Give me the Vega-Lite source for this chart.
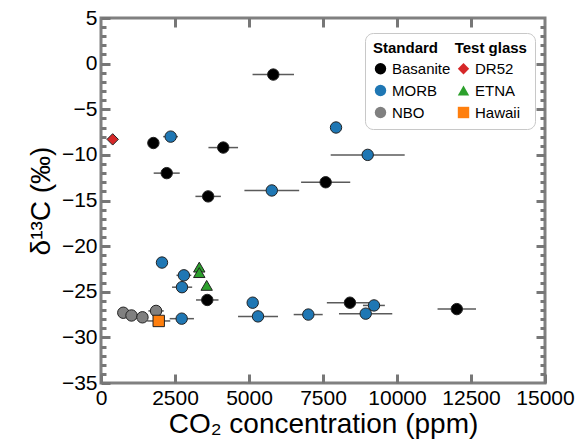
{
  "$schema": "https://vega.github.io/schema/vega-lite/v6.json",
  "width": 444,
  "height": 365,
  "autosize": {"type": "none"},
  "padding": {"left": 101, "top": 18, "right": 30, "bottom": 60},
  "config": {
    "view": {"stroke": "#808080", "strokeWidth": 3},
    "axis": {"domain": false, "grid": false, "tickColor": "#777777", "tickWidth": 3}
  },
  "data": {"values": [
      {"sample": "Basanite", "co2": 1770, "d13c": -8.7, "lo": 1770, "hi": 1770},
      {"sample": "Basanite", "co2": 2220, "d13c": -12.0, "lo": 1780, "hi": 2660},
      {"sample": "Basanite", "co2": 3620, "d13c": -14.55, "lo": 3190, "hi": 4050},
      {"sample": "Basanite", "co2": 4130, "d13c": -9.2, "lo": 3630, "hi": 4630},
      {"sample": "Basanite", "co2": 5820, "d13c": -1.2, "lo": 5120, "hi": 6520},
      {"sample": "Basanite", "co2": 7590, "d13c": -13.0, "lo": 6760, "hi": 8420},
      {"sample": "Basanite", "co2": 3590, "d13c": -25.9, "lo": 3210, "hi": 3970},
      {"sample": "Basanite", "co2": 8410, "d13c": -26.2, "lo": 7630, "hi": 9190},
      {"sample": "Basanite", "co2": 12020, "d13c": -26.9, "lo": 11370, "hi": 12670},
      {"sample": "MORB", "co2": 2354, "d13c": -8.0, "lo": 2100, "hi": 2600},
      {"sample": "MORB", "co2": 5770, "d13c": -13.9, "lo": 4845, "hi": 6695},
      {"sample": "MORB", "co2": 7940, "d13c": -7.0, "lo": 7770, "hi": 8110},
      {"sample": "MORB", "co2": 9010, "d13c": -10.0, "lo": 7760, "hi": 10260},
      {"sample": "MORB", "co2": 2060, "d13c": -21.8, "lo": 2060, "hi": 2060},
      {"sample": "MORB", "co2": 2800, "d13c": -23.2, "lo": 2550, "hi": 3050},
      {"sample": "MORB", "co2": 2736, "d13c": -24.5, "lo": 2400, "hi": 3080},
      {"sample": "MORB", "co2": 5125, "d13c": -26.2, "lo": 5125, "hi": 5125},
      {"sample": "MORB", "co2": 5304, "d13c": -27.7, "lo": 4630, "hi": 5980},
      {"sample": "MORB", "co2": 2726, "d13c": -27.95, "lo": 2320, "hi": 3140},
      {"sample": "MORB", "co2": 7004, "d13c": -27.5, "lo": 6510, "hi": 7490},
      {"sample": "MORB", "co2": 9223, "d13c": -26.5, "lo": 8850, "hi": 9590},
      {"sample": "MORB", "co2": 8943, "d13c": -27.4, "lo": 8040, "hi": 9840},
      {"sample": "NBO", "co2": 753, "d13c": -27.3, "lo": 753, "hi": 753},
      {"sample": "NBO", "co2": 1030, "d13c": -27.6, "lo": 1030, "hi": 1030},
      {"sample": "NBO", "co2": 1400, "d13c": -27.8, "lo": 1400, "hi": 1400},
      {"sample": "NBO", "co2": 1860, "d13c": -27.1, "lo": 1600, "hi": 2120},
      {"sample": "DR52", "co2": 395, "d13c": -8.3, "lo": 395, "hi": 395},
      {"sample": "ETNA", "co2": 3320, "d13c": -22.3, "lo": 3320, "hi": 3320},
      {"sample": "ETNA", "co2": 3320, "d13c": -22.9, "lo": 3320, "hi": 3320},
      {"sample": "ETNA", "co2": 3570, "d13c": -24.3, "lo": 3570, "hi": 3570},
      {"sample": "Hawaii", "co2": 1950, "d13c": -28.2, "lo": 1560, "hi": 2340}
  ]},
  "resolve": {"axis": {"x": "independent", "y": "independent"}},
  "layer": [
    {
      "mark": {"type": "rule", "color": "#5a5a5a", "strokeWidth": 1.5},
      "encoding": {
        "x": {"field": "lo", "type": "quantitative", "scale": {"domain": [0, 15000], "nice": false},
          "axis": {"orient": "top", "values": [2500, 5000, 7500, 10000, 12500], "labels": false, "tickSize": 9, "offset": -9, "title": null}},
        "x2": {"field": "hi"},
        "y": {"field": "d13c", "type": "quantitative", "scale": {"domain": [-35, 5], "nice": false},
          "axis": {"orient": "left", "values": [-34, -33, -32, -31, -29, -28, -27, -26, -24, -23, -22, -21, -19, -18, -17, -16, -14, -13, -12, -11, -9, -8, -7, -6, -4, -3, -2, -1, 1, 2, 3, 4], "labels": false, "tickSize": 5, "offset": -5, "title": null}}
      }
    },
    {
      "mark": {"type": "point", "filled": true, "stroke": "#222", "strokeWidth": 1, "opacity": 1},
      "encoding": {
        "x": {"field": "co2", "type": "quantitative", "scale": {"domain": [0, 15000], "nice": false},
          "axis": {"orient": "bottom", "values": [0, 2500, 5000, 7500, 10000, 12500, 15000], "format": "d", "labelFlush": false, "labelOverlap": false, "labelFont": "Liberation Sans", "labelColor": "#000", "labelFontSize": 21, "tickSize": 9, "offset": -9, "labelPadding": 4, "title": "CO₂ concentration (ppm)", "titleFont": "Liberation Sans", "titleColor": "#000", "titleFontWeight": "normal", "titleFontSize": 28, "titlePadding": 2}},
        "y": {"field": "d13c", "type": "quantitative", "scale": {"domain": [-35, 5], "nice": false},
          "axis": {"orient": "left", "values": [-35, -30, -25, -20, -15, -10, -5, 0, 5], "labelFlush": false, "labelOverlap": false, "labelFont": "Liberation Sans", "labelColor": "#000", "labelFontSize": 21, "tickSize": 9, "offset": -9, "labelPadding": 4, "labelExpr": "replace(datum.label, '-', '−')", "title": "δ¹³C (‰)", "titleFont": "Liberation Sans", "titleColor": "#000", "titleFontWeight": "normal", "titleFontSize": 28, "titlePadding": 6}},
        "fill": {"field": "sample", "type": "nominal",
          "scale": {"domain": ["Basanite", "MORB", "NBO", "DR52", "ETNA", "Hawaii"], "range": ["#000000", "#1f77b4", "#808080", "#d62728", "#2ca02c", "#ff7f0e"]},
          "legend": {"orient": "none", "legendX": 264, "legendY": 15, "columns": 2, "title": "Standard\u00a0\u00a0\u00a0\u00a0Test glass", "titleFont": "Liberation Sans", "titleFontSize": 15, "titleFontWeight": "bold", "titleColor": "#000", "labelFont": "Liberation Sans", "labelFontSize": 15, "labelColor": "#000", "symbolStrokeColor": "#222", "symbolStrokeWidth": 1, "rowPadding": 5, "columnPadding": 4, "padding": 8, "cornerRadius": 8, "strokeColor": "#c8c8c8", "fillColor": "white", "titlePadding": 5}},
        "shape": {"field": "sample", "type": "nominal",
          "scale": {"domain": ["Basanite", "MORB", "NBO", "DR52", "ETNA", "Hawaii"], "range": ["circle", "circle", "circle", "diamond", "triangle-up", "square"]},
          "legend": {"orient": "none", "legendX": 264, "legendY": 15, "columns": 2, "title": "Standard\u00a0\u00a0\u00a0\u00a0Test glass", "titleFont": "Liberation Sans", "titleFontSize": 15, "titleFontWeight": "bold", "titleColor": "#000", "labelFont": "Liberation Sans", "labelFontSize": 15, "labelColor": "#000", "symbolStrokeColor": "#222", "symbolStrokeWidth": 1, "rowPadding": 5, "columnPadding": 4, "padding": 8, "cornerRadius": 8, "strokeColor": "#c8c8c8", "fillColor": "white", "titlePadding": 5}},
        "size": {"field": "sample", "type": "nominal",
          "scale": {"domain": ["Basanite", "MORB", "NBO", "DR52", "ETNA", "Hawaii"], "range": [130, 130, 130, 300, 160, 130]},
          "legend": {"orient": "none", "legendX": 264, "legendY": 15, "columns": 2, "title": "Standard\u00a0\u00a0\u00a0\u00a0Test glass", "titleFont": "Liberation Sans", "titleFontSize": 15, "titleFontWeight": "bold", "titleColor": "#000", "labelFont": "Liberation Sans", "labelFontSize": 15, "labelColor": "#000", "symbolStrokeColor": "#222", "symbolStrokeWidth": 1, "rowPadding": 5, "columnPadding": 4, "padding": 8, "cornerRadius": 8, "strokeColor": "#c8c8c8", "fillColor": "white", "titlePadding": 5}}
      }
    },
    {
      "mark": {"type": "point", "opacity": 0},
      "encoding": {
        "x": {"field": "co2", "type": "quantitative", "scale": {"domain": [0, 15000], "nice": false}, "axis": null},
        "y": {"field": "d13c", "type": "quantitative", "scale": {"domain": [-35, 5], "nice": false},
          "axis": {"orient": "right", "values": [-30, -25, -20, -15, -10, -5, 0], "labels": false, "tickSize": 9, "offset": -9, "title": null}}
      }
    },
    {
      "mark": {"type": "point", "opacity": 0},
      "encoding": {
        "x": {"field": "co2", "type": "quantitative", "scale": {"domain": [0, 15000], "nice": false}, "axis": null},
        "y": {"field": "d13c", "type": "quantitative", "scale": {"domain": [-35, 5], "nice": false},
          "axis": {"orient": "right", "values": [-34, -33, -32, -31, -29, -28, -27, -26, -24, -23, -22, -21, -19, -18, -17, -16, -14, -13, -12, -11, -9, -8, -7, -6, -4, -3, -2, -1, 1, 2, 3, 4], "labels": false, "tickSize": 5, "offset": -5, "title": null}}
      }
    }
  ]
}
